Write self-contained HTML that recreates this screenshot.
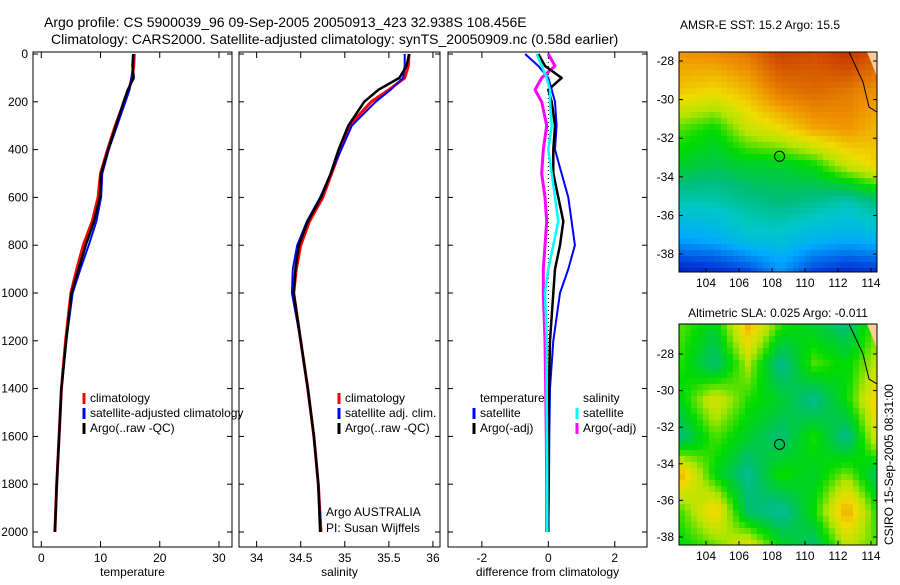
<!DOCTYPE html>
<html><head><meta charset="utf-8"><style>
body{margin:0;background:#fff;font-family:"Liberation Sans",sans-serif}
svg text{font-family:"Liberation Sans",sans-serif;fill:#000}
</style></head><body>
<svg id="c" width="900" height="580">
<text x="44" y="27" font-size="14">Argo profile: CS 5900039_96 09-Sep-2005 20050913_423 32.938S 108.456E</text>
<text x="51" y="44" font-size="14">Climatology: CARS2000. Satellite-adjusted climatology: synTS_20050909.nc (0.58d earlier)</text>
<text x="760" y="29" font-size="12" text-anchor="middle">AMSR-E SST: 15.2 Argo: 15.5</text>
<text x="778" y="317" font-size="12" text-anchor="middle">Altimetric SLA: 0.025 Argo: -0.011</text>
<text transform="translate(893,545) rotate(-90)" font-size="12">CSIRO 15-Sep-2005 08:31:00</text>
</svg>
<script>
const depths=[0,50,100,150,200,300,400,500,600,700,800,900,1000,1200,1400,1600,1800,2000];
const tClim=[15.7,15.6,15.3,14.8,14.0,12.5,11.2,10.0,9.6,8.6,7.1,6.0,5.0,4.1,3.4,3.0,2.6,2.3];
const tSat=[15.6,15.5,15.2,14.9,14.2,12.8,11.4,10.3,10.1,9.3,8.0,6.6,5.3,4.2,3.4,3.0,2.6,2.3];
const tArgo=[15.5,15.4,15.6,14.6,13.9,12.6,11.3,10.1,9.9,8.9,7.5,6.3,5.1,4.2,3.4,3.0,2.6,2.3];
const sClim=[35.73,35.72,35.68,35.5,35.3,35.05,34.95,34.85,34.75,34.6,34.5,34.45,34.42,34.5,34.58,34.65,34.7,34.73];
const sSat=[35.68,35.68,35.66,35.52,35.35,35.08,34.96,34.84,34.72,34.57,34.46,34.41,34.4,34.5,34.58,34.65,34.7,34.73];
const sArgo=[35.73,35.7,35.62,35.38,35.22,35.04,34.93,34.84,34.73,34.58,34.48,34.44,34.42,34.5,34.58,34.65,34.7,34.72];
const dtSat=[-0.7,-0.3,0.0,0.1,0.2,0.25,0.2,0.4,0.6,0.7,0.8,0.6,0.35,0.15,0.05,0.03,0.02,0.0];
const dtArgo=[-0.3,-0.1,0.4,0.0,0.1,0.2,0.15,0.15,0.3,0.45,0.35,0.2,0.15,0.05,0.02,0.0,0.0,0.0];
const dsSat=[-0.35,-0.2,-0.05,0.05,0.05,0.1,0.0,0.1,0.2,0.3,0.15,0.0,-0.1,-0.05,-0.05,-0.04,-0.03,-0.03];
const dsArgo=[0.0,0.2,-0.2,-0.4,-0.2,-0.05,-0.15,-0.2,-0.1,-0.05,-0.1,-0.15,-0.15,-0.1,-0.08,-0.06,-0.05,-0.05];
const depthTicks=[0,200,400,600,800,1000,1200,1400,1600,1800,2000];
const tTicks=[0,10,20,30], sTicks=[34,34.5,35,35.5,36], dTicks=[-2,0,2];
const lonTicks=[104,106,108,110,112,114], latTicks=[-28,-30,-32,-34,-36,-38];
const sstGrid=[[.76,.77,.8,.88,.86,.9,.84],[.7,.68,.72,.8,.82,.8,.76],[.58,.55,.64,.68,.74,.76,.72],[.52,.5,.52,.52,.55,.64,.7],[.42,.42,.45,.47,.45,.42,.47],[.3,.32,.38,.38,.34,.32,.34],[.08,.1,.14,.26,.14,.1,.12]];
const slaGrid=[[.58,.52,.72,.56,.52,.47,.6],[.56,.47,.62,.45,.58,.54,.64],[.54,.66,.56,.52,.45,.55,.72],[.47,.58,.52,.47,.56,.45,.68],[.72,.54,.45,.56,.52,.6,.47],[.58,.7,.48,.44,.55,.74,.54],[.54,.58,.68,.54,.47,.62,.58]];
const cmap=[[0,0,0,140],[.15,0,60,220],[.3,0,170,255],[.4,0,200,200],[.47,0,190,120],[.55,0,220,0],[.62,180,230,0],[.68,240,220,0],[.76,240,150,0],[.86,210,80,0],[1,170,0,0]];
const NS="http://www.w3.org/2000/svg", svg=document.getElementById('c');
function el(t,a,p){const e=document.createElementNS(NS,t);for(const k in a)e.setAttribute(k,a[k]);(p||svg).appendChild(e);return e;}
const yD=d=>54+d*0.239;
function panel(x0,x1,xmin,xmax,ticks,label,name,fmt){
 const g=el('g',{});
 const sx=v=>x0+(v-xmin)/(xmax-xmin)*(x1-x0);
 el('rect',{x:x0,y:52,width:x1-x0,height:495,fill:'none',stroke:'#000'},g);
 ticks.forEach(t=>{const x=sx(t);el('line',{x1:x,x2:x,y1:547,y2:541,stroke:'#000'},g);el('line',{x1:x,x2:x,y1:52,y2:58,stroke:'#000'},g);
  const tx=el('text',{x:x,y:562,'font-size':12,'text-anchor':'middle'},g);tx.textContent=fmt(t);});
 depthTicks.forEach(d=>{const y=yD(d);el('line',{x1:x0,x2:x0+5,y1:y,y2:y,stroke:'#000'},g);el('line',{x1:x1,x2:x1-5,y1:y,y2:y,stroke:'#000'},g);});
 const lb=el('text',{x:(x0+x1)/2,y:576,'font-size':12,'text-anchor':'middle'},g);lb.textContent=label;
 return {g,sx};
}
function line(p,vals,col,w,name,dash){const pts=vals.map((v,i)=>p.sx(v).toFixed(1)+','+yD(depths[i]).toFixed(1)).join(' ');
 const l=el('polyline',{points:pts,fill:'none',stroke:col,'stroke-width':w,'stroke-linejoin':'round'},p.g);if(dash)l.setAttribute('stroke-dasharray',dash);
 }
depthTicks.forEach(d=>{const t=el('text',{x:28,y:yD(d)+4,'font-size':12,'text-anchor':'end'});t.textContent=d;});
const p1=panel(33,232,-1.4,32.2,tTicks,'temperature','temperature-panel',v=>v);
line(p1,tClim,'#f00',3,'temp-climatology-line');line(p1,tSat,'#00f',2,'temp-satellite-line');line(p1,tArgo,'#000',2.5,'temp-argo-line');
const p2=panel(239,440,33.8,36.08,sTicks,'salinity','salinity-panel',v=>v);
line(p2,sClim,'#f00',3,'sal-climatology-line');line(p2,sSat,'#00f',2,'sal-satellite-line');line(p2,sArgo,'#000',2.5,'sal-argo-line');
const p3=panel(448,647,-3.02,2.97,dTicks,'difference from climatology','difference-panel',v=>v);
el('line',{x1:p3.sx(0),x2:p3.sx(0),y1:yD(0),y2:yD(2000),stroke:'#000','stroke-dasharray':'1,3'},p3.g);
line(p3,dtSat,'#00f',2,'dt-satellite-line');line(p3,dsArgo,'#f0f',3,'ds-argo-line');line(p3,dtArgo,'#000',2.5,'dt-argo-line');line(p3,dsSat,'#0ff',2.5,'ds-satellite-line');
function legend(x,y,items,name){const g=el('g',{});
 items.forEach((it,i)=>{const yy=y+i*15;if(it[1])el('line',{x1:x,x2:x,y1:yy-9,y2:yy+2,stroke:it[1],'stroke-width':3},g);
 const t=el('text',{x:x+6,y:yy,'font-size':12},g);t.textContent=it[0];});}
legend(84,402,[['climatology','#f00'],['satellite-adjusted climatology','#00f'],['Argo(..raw -QC)','#000']],'temp-legend');
legend(339,402,[['climatology','#f00'],['satellite adj. clim.','#00f'],['Argo(..raw -QC)','#000']],'sal-legend');
legend(474,402,[['temperature',null],['satellite','#00f'],['Argo(-adj)','#000']],'diff-temp-legend');
legend(577,402,[['salinity',null],['satellite','#0ff'],['Argo(-adj)','#f0f']],'diff-sal-legend');
const t1=el('text',{x:326,y:516,'font-size':12});t1.textContent='Argo AUSTRALIA';
const t2=el('text',{x:326,y:532,'font-size':12});t2.textContent='PI: Susan Wijffels';
function col(v){v=Math.max(0,Math.min(1,v));for(let k=1;k<cmap.length;k++){if(v<=cmap[k][0]){const a=cmap[k-1],b=cmap[k],f=(v-a[0])/(b[0]-a[0]);return `rgb(${a[1]+(b[1]-a[1])*f|0},${a[2]+(b[2]-a[2])*f|0},${a[3]+(b[3]-a[3])*f|0})`;}}return 'rgb(170,0,0)';}
function map(y0,y1,latY0,grid,name){const x0=679,x1=877;const g=el('g',{});
 const sxl=lon=>706+(lon-104)*16.5, syl=lat=>latY0+(-28-lat)*(y1===272?19.3:18.3);
 const cs=6;for(let y=y0;y<y1;y+=cs)for(let x=x0;x<x1;x+=cs){
  const fx=(x-x0)/(x1-x0)*6,fy=(y-y0)/(y1-y0)*6;const i=Math.min(5,Math.floor(fy)),j=Math.min(5,Math.floor(fx));const a=fy-i,b=fx-j;
  const v=grid[i][j]*(1-a)*(1-b)+grid[i][j+1]*(1-a)*b+grid[i+1][j]*a*(1-b)+grid[i+1][j+1]*a*b;
  el('rect',{x:x,y:y,width:Math.min(cs,x1-x),height:Math.min(cs,y1-y),fill:col(v)},g);}
 el('polygon',{points:`${x1-10},${y0} ${x1},${y0} ${x1},${y0+25} ${x1-5},${y0+12}`,fill:'#fc9'},g);
 el('polyline',{points:`${x1-28},${y0} ${x1-14},${y0+30} ${x1-8},${y0+55} ${x1},${y0+60}`,fill:'none',stroke:'#000'},g);
 el('rect',{x:x0,y:y0,width:x1-x0,height:y1-y0,fill:'none',stroke:'#000'},g);
 el('circle',{cx:sxl(108.456),cy:syl(-32.938),r:5,fill:'none',stroke:'#000'},g);
 lonTicks.forEach(l=>{const x=sxl(l);el('line',{x1:x,x2:x,y1:y1,y2:y1-4,stroke:'#000'},g);const t=el('text',{x:x,y:y1+15,'font-size':12,'text-anchor':'middle'},g);t.textContent=l;});
 latTicks.forEach(l=>{const y=syl(l);el('line',{x1:x0,x2:x0+4,y1:y,y2:y,stroke:'#000'},g);el('line',{x1:x1,x2:x1-4,y1:y,y2:y,stroke:'#000'},g);const t=el('text',{x:x0-5,y:y+4,'font-size':12,'text-anchor':'end'},g);t.textContent=l;});}
map(52,272,61,sstGrid,'sst-map');
map(324,545,354,slaGrid,'sla-map');
</script>
</body></html>
